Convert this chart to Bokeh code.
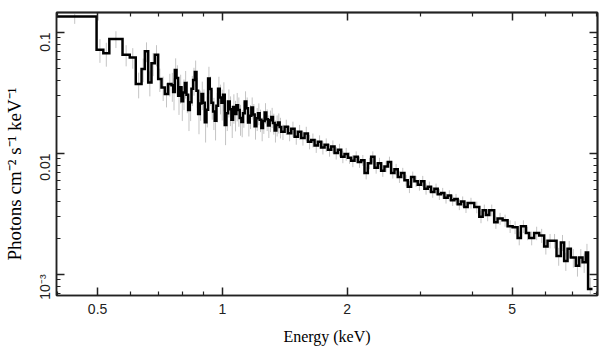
import math
from bokeh.plotting import figure
from bokeh.models import LogAxis, FixedTicker, CustomJSTickFormatter, Range1d, ColumnDataSource, Title
from bokeh.embed import file_html
from bokeh.resources import INLINE

# ---- data (energy bin edges in keV, flux in photons cm^-2 s^-1 keV^-1) ----
bin_edges = [
    0.39, 0.4972, 0.5162, 0.5337, 0.5743, 0.5979, 0.6181, 0.6383, 0.6500, 0.6623,
    0.6745, 0.6871, 0.7000, 0.7131, 0.7264, 0.7400,
    0.7538, 0.7608, 0.7679, 0.7750, 0.7822, 0.7895, 0.7968, 0.8042, 0.8117, 0.8192,
    0.8268, 0.8345, 0.8423, 0.8501, 0.8580, 0.8660, 0.8740, 0.8821, 0.8902, 0.8985,
    0.9068, 0.9152, 0.9237, 0.9323, 0.9409, 0.9496, 0.9584, 0.9673, 0.9763, 0.9854,
    0.9945, 1.0037, 1.0130, 1.0224, 1.0320, 1.0416, 1.0512, 1.0610, 1.0708, 1.0807,
    1.0908, 1.1009, 1.1111, 1.1214, 1.1319, 1.1424, 1.1530, 1.1637, 1.1745, 1.1854,
    1.1964, 1.2075, 1.2187, 1.2300, 1.2414, 1.2529, 1.2646, 1.2763, 1.2882, 1.3002,
    1.3122, 1.3244, 1.3366, 1.3490, 1.3616, 1.3742,
    1.3870,
    1.4128, 1.4392, 1.4660, 1.4934, 1.5212, 1.5496, 1.5785, 1.6080, 1.6380, 1.6685,
    1.6997, 1.7314, 1.7637, 1.7966, 1.8301, 1.8642, 1.8990, 1.9344, 1.9705, 2.0073,
    2.0447, 2.0829, 2.1217, 2.1613, 2.2016, 2.2427, 2.2845, 2.3271, 2.3706, 2.4148,
    2.4598, 2.5057, 2.5524, 2.6000, 2.6485, 2.6979, 2.7483, 2.7995, 2.8517, 2.9049,
    2.9591, 3.0143, 3.0705, 3.1278, 3.1861, 3.2456, 3.3061, 3.3678, 3.4306, 3.4946,
    3.5598, 3.6262, 3.6938, 3.7627, 3.8329, 3.9044,
    4.051, 4.165, 4.244, 4.323, 4.403, 4.524, 4.610, 4.740, 4.874, 5.012,
    5.152, 5.248, 5.395, 5.495, 5.649, 5.808, 5.971, 6.085, 6.256, 6.396,
    6.551, 6.672, 6.799, 6.925, 7.119, 7.250, 7.389, 7.526, 7.621, 7.810,
]

flux = [
    0.1356, 0.0720, 0.0671, 0.0882, 0.0654, 0.0621, 0.0375, 0.0498, 0.0697, 0.0386,
    0.0555, 0.0654, 0.0412, 0.0351, 0.0310, 0.0375,
    0.0365, 0.0322, 0.0490, 0.0420, 0.0300, 0.0352, 0.0270, 0.0318, 0.0382, 0.0305,
    0.0228, 0.0265, 0.0342, 0.0405, 0.0470, 0.0330, 0.0212, 0.0258, 0.0310, 0.0262,
    0.0181, 0.0230, 0.0415, 0.0340, 0.0262, 0.0222, 0.0186, 0.0248, 0.0342, 0.0290,
    0.0262, 0.0305, 0.0172, 0.0215, 0.0268, 0.0232, 0.0190, 0.0242, 0.0212, 0.0250,
    0.0228, 0.0196, 0.0182, 0.0215, 0.0268, 0.0236, 0.0180, 0.0205, 0.0240, 0.0210,
    0.0168, 0.0195, 0.0215, 0.0190, 0.0162, 0.0185, 0.0218, 0.0192, 0.0170, 0.0188,
    0.0200, 0.0178, 0.0155, 0.0172, 0.0180, 0.0165,
    0.0151,
    0.0166, 0.0147, 0.0160, 0.0137, 0.0151, 0.0134, 0.0146, 0.0125, 0.0129, 0.0116,
    0.0125, 0.0112, 0.0118, 0.0107, 0.0114, 0.0101, 0.0107, 0.0094, 0.0099, 0.0092,
    0.0087, 0.0094, 0.0085, 0.0088, 0.0069, 0.0083, 0.0094, 0.0076, 0.0083, 0.0072,
    0.0078, 0.0085, 0.0069, 0.0074, 0.0064, 0.0069, 0.0060, 0.0053, 0.0064, 0.0059,
    0.0055, 0.0059, 0.0051, 0.0053, 0.0048, 0.0051, 0.0046, 0.0047, 0.0043, 0.0045,
    0.0041, 0.0042, 0.0038, 0.0040, 0.0036,
    0.0039, 0.0036, 0.0030, 0.0034, 0.0031, 0.0034, 0.0027, 0.0029, 0.0028, 0.0025,
    0.00245, 0.0020, 0.0025, 0.0022, 0.0020, 0.0022, 0.0021, 0.0017, 0.0019, 0.0019,
    0.00142, 0.00184, 0.00129, 0.00163, 0.00138, 0.00118, 0.00138, 0.00126, 0.00152, 0.00076,
]

flux_err = [
    0.018, 0.016, 0.015, 0.014, 0.013, 0.012, 0.009, 0.011, 0.013, 0.009,
    0.012, 0.013, 0.009, 0.008, 0.007, 0.008,
    0.0098, 0.0095, 0.012, 0.0115, 0.0092, 0.0095, 0.0085, 0.009, 0.0098, 0.009,
    0.0075, 0.008, 0.0095, 0.0105, 0.0115, 0.0092, 0.0068, 0.0072, 0.0082, 0.0076,
    0.0058, 0.0066, 0.0105, 0.0092, 0.0072, 0.0066, 0.0058, 0.0068, 0.0088, 0.008,
    0.0075, 0.0082, 0.0055, 0.0062, 0.007, 0.0064, 0.0056, 0.0066, 0.006, 0.0066,
    0.0062, 0.0056, 0.0046, 0.0052, 0.0058, 0.0054, 0.0042, 0.0046, 0.005, 0.0046,
    0.0038, 0.0042, 0.0044, 0.004, 0.0036, 0.004, 0.0042, 0.0039, 0.0036, 0.0038,
    0.0038, 0.0035, 0.0032, 0.0034, 0.0034, 0.0032,
    0.0022,
    0.0024, 0.0021, 0.0023, 0.0019, 0.0021, 0.0018, 0.0020, 0.0017, 0.0017, 0.0015,
    0.0016, 0.0014, 0.0015, 0.0013, 0.0014, 0.0012, 0.0013, 0.0011, 0.0012, 0.0010,
    0.0010, 0.0010, 0.0009, 0.0009, 0.0008, 0.0009, 0.0010, 0.0008, 0.0009, 0.0008,
    0.0008, 0.0009, 0.0007, 0.0008, 0.0007, 0.0007, 0.00065, 0.0006, 0.00068, 0.00062,
    0.00058, 0.00062, 0.00054, 0.00055, 0.0005, 0.00053, 0.00048, 0.00049, 0.00045, 0.00046,
    0.00042, 0.00043, 0.0004, 0.00041, 0.00038,
    0.0004, 0.0004, 0.00035, 0.00038, 0.00035, 0.00038, 0.00032, 0.00033, 0.00032, 0.0003,
    0.0003, 0.00026, 0.0003, 0.00028, 0.00026, 0.00028, 0.00028, 0.00024, 0.00026, 0.00026,
    0.00024, 0.00028, 0.00022, 0.00026, 0.00024, 0.00022, 0.00024, 0.00023, 0.00027, 0.00018,
]

x_ticks = [0.5, 1, 2, 5]
x_tick_labels = ["0.5", "1", "2", "5"]
x_minor_ticks = [0.4, 0.6, 0.7, 0.8, 0.9, 3, 4, 6, 7, 8]
y_ticks = [0.001, 0.01, 0.1]
y_tick_labels = ["10⁻³", "0.01", "0.1"]
y_minor_ticks = [0.0007, 0.0008, 0.0009, 0.002, 0.003, 0.004, 0.005, 0.006, 0.007, 0.008, 0.009,
                 0.02, 0.03, 0.04, 0.05, 0.06, 0.07, 0.08, 0.09]
x_label = "Energy (keV)"
y_label = "Photons cm⁻² s⁻¹ keV⁻¹"

# ---- build glyph sources ----
n = min(len(flux), len(flux_err), len(bin_edges) - 1)
step_x, step_y = [], []
for i in range(n):
    step_x += [bin_edges[i], bin_edges[i + 1]]
    step_y += [flux[i], flux[i]]
centers = [(bin_edges[i] * bin_edges[i + 1]) ** 0.5 for i in range(n)]
err_src = ColumnDataSource(dict(
    x=centers,
    lo=[flux[i] - flux_err[i] for i in range(n)],
    hi=[flux[i] + flux_err[i] for i in range(n)],
))

p = figure(width=608, height=357, x_axis_type="log", y_axis_type="log",
           x_range=Range1d(0.398, 8.03), y_range=Range1d(6.7e-4, 0.146),
           output_backend="svg", toolbar_location=None,
           min_border_left=55, min_border_right=11, min_border_top=12, min_border_bottom=62)
p.background_fill_color = "white"
p.border_fill_color = "white"
p.outline_line_color = "#222222"
p.outline_line_width = 1.5
p.xgrid.visible = False
p.ygrid.visible = False

p.segment(x0="x", y0="lo", x1="x", y1="hi", source=err_src, line_color="#c4c4c4", line_width=1)
p.line(step_x, step_y, line_color="black", line_width=2.5, line_join="miter")

fmt_code = """
for (let i = 0; i < tv.length; i++) {
  if (Math.abs(Math.log10(tick) - Math.log10(tv[i])) < 1e-6) return tl[i];
}
return '';
"""
xfmt = CustomJSTickFormatter(args=dict(tv=x_ticks, tl=x_tick_labels), code=fmt_code)
yfmt = CustomJSTickFormatter(args=dict(tv=y_ticks, tl=y_tick_labels), code=fmt_code)


def base_style(ax):
    ax.axis_line_color = "#222222"
    ax.axis_line_width = 1.5
    ax.major_tick_line_color = "#222222"
    ax.minor_tick_line_color = "#222222"
    ax.major_tick_line_width = 1.5
    ax.minor_tick_line_width = 1.2
    ax.major_tick_in = 8
    ax.major_tick_out = 0
    ax.minor_tick_in = 4
    ax.minor_tick_out = 0


def labelled(ax, ticks, minor, fmt):
    base_style(ax)
    ax.ticker = FixedTicker(ticks=ticks, minor_ticks=minor)
    ax.formatter = fmt
    ax.major_label_text_font = "Liberation Sans"
    ax.major_label_text_font_size = "14px"
    ax.major_label_text_color = "#222222"
    ax.axis_label_text_font = "Liberation Serif"
    ax.axis_label_text_font_size = "16px"
    ax.axis_label_text_font_style = "normal"
    ax.axis_label_text_color = "black"


def mirror(side, ticks, length):
    # unlabelled mirrored tick marks: ticks given as minor ticks so no labels are drawn
    ax = LogAxis()
    base_style(ax)
    ax.ticker = FixedTicker(ticks=[], minor_ticks=ticks)
    ax.minor_tick_in = length
    ax.minor_tick_line_width = 1.5 if length > 5 else 1.2
    ax.major_label_standoff = 0
    ax.axis_label_standoff = 0
    p.add_layout(ax, side)


xa = p.xaxis[0]
labelled(xa, x_ticks, x_minor_ticks, xfmt)
xa.axis_label = x_label
xa.major_label_standoff = 8
xa.axis_label_standoff = 11

ya = p.yaxis[0]
labelled(ya, y_ticks, y_minor_ticks, yfmt)
ya.major_label_orientation = math.pi / 2
ya.major_label_standoff = 11

# y-axis title: starts a little above the frame bottom, as in the reference
p.add_layout(Title(text=y_label, align="left", offset=35, standoff=3,
                   text_font="Liberation Serif", text_font_size="19px",
                   text_font_style="normal", text_color="black"), "left")

mirror("above", x_ticks, 8)
mirror("above", x_minor_ticks, 4)
mirror("right", y_ticks, 8)
mirror("right", y_minor_ticks, 4)

open("out.html", "w").write(file_html(p, INLINE))
